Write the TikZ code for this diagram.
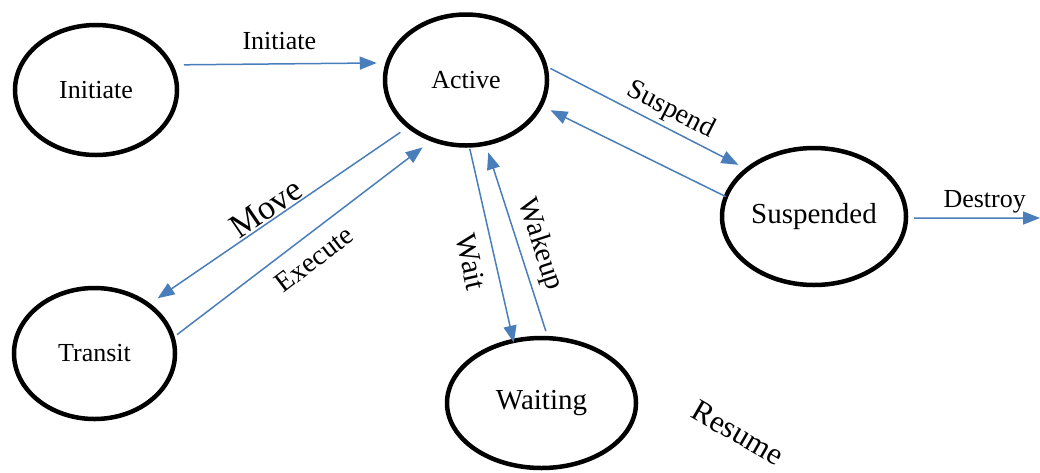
\documentclass[tikz,border=0pt]{standalone}
\usepackage{fontspec}
\setmainfont{Liberation Serif}
\usetikzlibrary{shapes.geometric}
\usetikzlibrary{arrows.meta}

\definecolor{flowblue}{RGB}{74,126,187}

\begin{document}
\begin{tikzpicture}[x=1pt,y=-1pt,
    state/.style={ellipse,draw,line width=4.5pt,inner sep=0pt,font=\fontsize{26}{30}\selectfont},
    flow/.style={draw=flowblue,line width=1.5pt,-{Triangle[length=17pt,width=13pt]}},
    lbl/.style={font=\fontsize{28}{32}\selectfont}]
      \useasboundingbox (0,0) rectangle (1040,472);
      \node[state,minimum width=162pt,minimum height=130pt] (ini) at (96,90) {Initiate};
      \node[state,minimum width=162pt,minimum height=131pt] (act) at (466,80) {Active};
      \node[state,minimum width=161pt,minimum height=131pt] (tra) at (94.5,353.5) {Transit};
      \node[state,minimum width=189pt,minimum height=130pt,font=\fontsize{29}{33}\selectfont] (wai) at (541.5,403) {Waiting};
      \node[state,minimum width=184pt,minimum height=137pt,font=\fontsize{29}{33}\selectfont] (sus) at (814,216.5) {Suspended};
      \coordinate (out) at (1040,218);
      \draw[flow,shorten <=10.6pt,shorten >=8.7pt] (ini.18.2) -- node[lbl,above,inner sep=13pt,font=\fontsize{26}{30}\selectfont] (linit) {Initiate} (act.168.3);
      \draw[flow,shorten <=8pt,shorten >=9pt] (act.219.5) -- node[lbl,pos=0.52,sloped,above,inner sep=1pt,font=\fontsize{34}{38}\selectfont] (lmove) {Move} (tra.42);
      \draw[flow,shorten <=3pt,shorten >=10pt] (tra.12.3) -- node[lbl,pos=0.49,sloped,below,inner sep=13pt] (lexec) {Execute} (act.240.2);
      \draw[flow,shorten <=1pt,shorten >=-4pt] (act.273.4) -- node[lbl,pos=0.57,sloped,below,inner sep=13pt,font=\fontsize{30}{34}\selectfont] (lwait) {Wait} (wai.114.6);
      \draw[flow,shorten <=5pt,shorten >=7pt] (wai.85.5) -- node[lbl,pos=0.446,sloped,above,inner sep=7pt,font=\fontsize{29}{33}\selectfont] (lwake) {Wakeup} (act.287.4);
      \draw[flow,shorten <=3pt,shorten >=7.5pt] (act.9.7) -- node[lbl,pos=0.583,sloped,above,inner sep=4pt] (lsusp) {Suspend} (sus.145.7);
      \draw[flow,shorten <=-2pt,shorten >=8.7pt] (sus.167.2) -- (act.341.4);
      \draw[flow,shorten <=6pt] (sus.-1) -- node[lbl,pos=0.58,above,inner sep=4pt,font=\fontsize{26}{30}\selectfont] (ldest) {Destroy} (out);
      \node[lbl,rotate=-30,font=\fontsize{31}{35}\selectfont] (lres) at (738,433) {Resume};
    \end{tikzpicture}
\end{document}
